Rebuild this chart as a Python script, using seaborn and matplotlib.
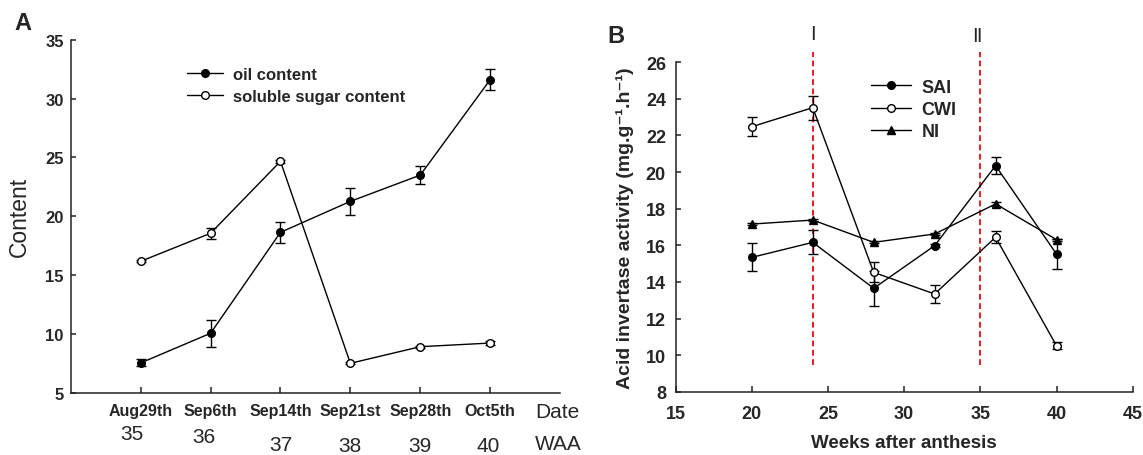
import matplotlib
matplotlib.use("Agg")
import matplotlib.pyplot as plt
import seaborn as sns
import pandas as pd
import numpy as np
from matplotlib.lines import Line2D

sns.set_theme(style="ticks")
plt.rcParams['font.family'] = ['Liberation Sans', 'DejaVu Sans']

# ---- Panel A data ----
dates = ["Aug29th", "Sep6th", "Sep14th", "Sep21st", "Sep28th", "Oct5th"]
waa = [35, 36, 37, 38, 39, 40]
oil = [7.55, 10.07, 18.64, 21.27, 23.5, 31.6]
oil_err = [0.3, 1.15, 0.9, 1.13, 0.78, 0.88]
sugar = [16.18, 18.56, 24.67, 7.52, 8.93, 9.24]
sugar_err = [0.1, 0.45, 0.1, 0.1, 0.1, 0.2]

# ---- Panel B data ----
weeks = [20, 24, 28, 32, 36, 40]
sai = [15.34, 16.16, 13.65, 15.98, 20.35, 15.52]
sai_err = [0.76, 0.66, 0.95, 0.1, 0.46, 0.82]
cwi = [22.48, 23.52, 14.52, 13.34, 16.44, 10.51]
cwi_err = [0.53, 0.66, 0.55, 0.5, 0.33, 0.2]
ni = [17.16, 17.38, 16.16, 16.62, 18.26, 16.31]
ni_err = [0.05, 0.05, 0.05, 0.05, 0.1, 0.05]
phase_weeks = [24, 35]
phase_labels = ["Ⅰ", "Ⅱ"]

# layout offsets for the WAA row (as placed in the original figure)
waa_dx = [-0.13, -0.09, 0.0, 0.0, 0.0, -0.03]
waa_y = [-0.116, -0.122, -0.147, -0.150, -0.150, -0.150]

fig = plt.figure(figsize=(11.43, 4.56), dpi=100)
axA = fig.add_axes([0.0619, 0.136, 0.4281, 0.7748])
axB = fig.add_axes([0.5911, 0.1388, 0.3999, 0.7224])

pos = np.arange(1, len(dates) + 1)
dfA = pd.DataFrame({"pos": pos, "oil": oil, "sugar": sugar})

LW = 1.0
MS = 5.5

def series(ax, x, y, err, marker, mfc, label, ms=MS):
    sns.lineplot(x=x, y=y, ax=ax, color="black", lw=LW, marker=marker,
                 markersize=ms, markerfacecolor=mfc, markeredgecolor="black",
                 markeredgewidth=1.0, label=label, legend=False, zorder=3)
    ax.errorbar(x, y, yerr=err, fmt="none", ecolor="black", elinewidth=LW,
                capsize=3.4, capthick=LW, zorder=2)

def style_spines(ax):
    sns.despine(ax=ax)
    for s in ["left", "bottom"]:
        ax.spines[s].set_linewidth(1.1)
        ax.spines[s].set_color("#222222")

series(axA, dfA["pos"], dfA["oil"], oil_err, "o", "black", "oil content")
series(axA, dfA["pos"], dfA["sugar"], sugar_err, "o", "white", "soluble sugar content")

axA.set_xlim(0, 7)
axA.set_ylim(5, 35)
axA.set_yticks(range(5, 36, 5))
axA.set_xticks(pos)
axA.set_xticklabels(dates, fontweight="bold", fontsize=11.5)
axA.tick_params(axis="x", direction="in", length=4, pad=7.5, width=1.1, color="#222222")
axA.tick_params(axis="y", direction="in", length=3.5, width=1.1, labelsize=12, pad=5,
                color="#222222")
for t in axA.get_yticklabels():
    t.set_fontweight("bold")
style_spines(axA)
axA.set_xlabel("")
axA.set_ylabel("Content", fontsize=16.5)
axA.yaxis.set_label_coords(-0.081, 0.5)
trA = axA.get_xaxis_transform()
for p, w, dx, yy in zip(pos, waa, waa_dx, waa_y):
    axA.text(p + dx, yy, str(w), transform=trA, ha="center", va="center",
             fontsize=15)
axA.text(6.64, -0.053, "Date", transform=trA, ha="left", va="center", fontsize=15)
axA.text(6.64, -0.142, "WAA", transform=trA, ha="left", va="center", fontsize=15)
hA = [Line2D([], [], color="black", lw=LW, marker="o", ms=MS, mfc=c, mec="black")
      for c in ["black", "white"]]
axA.legend(hA, ["oil content", "soluble sugar content"], loc="upper left",
           bbox_to_anchor=(0.237, 0.924), frameon=False, handlelength=2.15,
           handletextpad=0.6, borderpad=0, borderaxespad=0,
           prop={"weight": "bold", "size": 12}, labelspacing=0.45)
fig.text(0.0201, 0.9485, "A", fontsize=17, fontweight="bold", ha="center", va="center")

# ---- Panel B ----
dfB = pd.DataFrame({"weeks": weeks, "SAI": sai, "CWI": cwi, "NI": ni})
series(axB, dfB["weeks"], dfB["SAI"], sai_err, "o", "black", "SAI")
series(axB, dfB["weeks"], dfB["CWI"], cwi_err, "o", "white", "CWI")
series(axB, dfB["weeks"], dfB["NI"], ni_err, "^", "black", "NI", ms=5.5)

phase_y = [27.55, 27.47]
phase_dx = [0.0, -0.22]
for w, lab, yy, dx in zip(phase_weeks, phase_labels, phase_y, phase_dx):
    axB.plot([w, w], [9.48, 26.55], color="#ee1c25", ls=(0, (3.0, 1.8)), lw=1.4,
             clip_on=False, zorder=1)
    axB.text(w + dx, yy, lab, ha="center", va="center", fontsize=14,
             family=["DejaVu Sans"], clip_on=False)

axB.set_xlim(15, 45)
axB.set_ylim(8, 26)
axB.set_xticks(range(15, 46, 5))
axB.set_yticks(range(8, 27, 2))
axB.tick_params(axis="x", direction="in", length=4, width=1.1, labelsize=13, pad=9.5,
                color="#222222")
axB.tick_params(axis="y", direction="in", length=3.5, width=1.1, labelsize=13, pad=7,
                color="#222222")
for t in axB.get_xticklabels() + axB.get_yticklabels():
    t.set_fontweight("bold")
style_spines(axB)
axB.set_xlabel("Weeks after anthesis", fontsize=13.5, fontweight="bold")
axB.xaxis.set_label_coords(0.5, -0.129)
axB.set_ylabel("Acid invertase activity (mg.g⁻¹.h⁻¹)", fontsize=14, fontweight="bold")
axB.yaxis.set_label_coords(-0.09, 0.5)
hB = [Line2D([], [], color="black", lw=LW, marker=m, ms=MS, mfc=c, mec="black")
      for m, c in [("o", "black"), ("o", "white"), ("^", "black")]]
axB.legend(hB, ["SAI", "CWI", "NI"], loc="upper left", bbox_to_anchor=(0.4275, 0.95),
           frameon=False, handlelength=2.2, handletextpad=0.6, borderpad=0,
           borderaxespad=0, prop={"weight": "bold", "size": 13}, labelspacing=0.29)
fig.text(0.5385, 0.92, "B", fontsize=17, fontweight="bold", ha="center", va="center")

fig.savefig("out.png", dpi=100)
